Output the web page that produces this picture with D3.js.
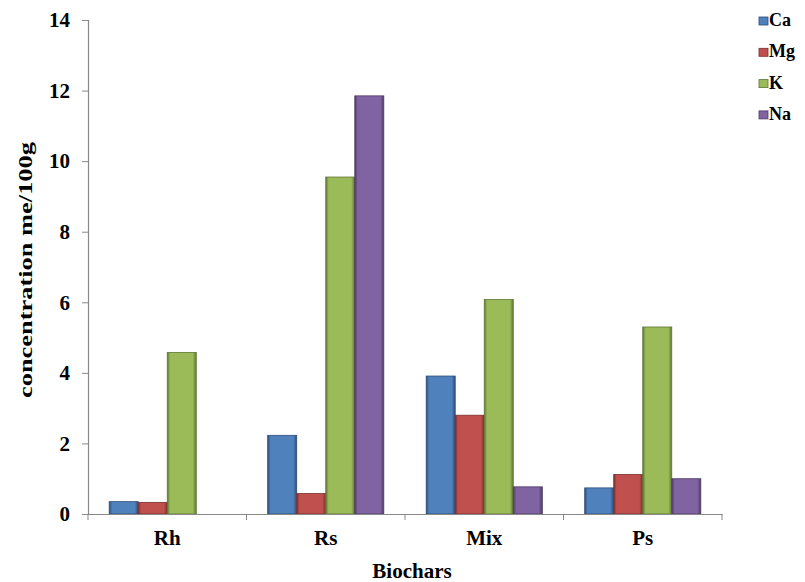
<!DOCTYPE html>
<html><head><meta charset="utf-8">
<script src="https://cdn.jsdelivr.net/npm/d3@7"></script>
<style>body{margin:0;background:#fff}text{font-family:"Liberation Serif","Times New Roman",serif;font-weight:bold}</style>
</head><body>
<svg id="c" width="805" height="582"></svg>
<script>
const categories = ["Rh","Rs","Mix","Ps"];
const seriesNames = ["Ca","Mg","K","Na"];
const Ca = [0.35, 2.23, 3.91, 0.74];
const Mg = [0.33, 0.58, 2.80, 1.12];
const K  = [4.58, 9.55, 6.08, 5.30];
const Na = [0.00, 11.85, 0.77, 1.00];
const yTicks = [0,2,4,6,8,10,12,14];
const colors = ["#4F81BD","#C0504D","#9BBB59","#8064A2"];
const dark = ["#2c4d77","#7a2f2d","#5f7633","#4d3a66"];

const svg = d3.select("#c");
const values = [Ca,Mg,K,Na];
const x0 = d3.scaleBand().domain(categories).range([88,722]).paddingInner(0).paddingOuter(0);
const x1 = d3.scaleBand().domain(seriesNames).range([0, x0.bandwidth()]).paddingInner(0).paddingOuter(0.73);
const y = d3.scaleLinear().domain([0,14]).range([514,20]);

const defs = svg.append("defs");
seriesNames.forEach((s,i)=>{
  const g = defs.append("linearGradient").attr("id","g"+i).attr("x1","0").attr("x2","1").attr("y1","0").attr("y2","0");
  g.append("stop").attr("offset","0").attr("stop-color",dark[i]);
  g.append("stop").attr("offset","0.1").attr("stop-color",colors[i]);
  g.append("stop").attr("offset","0.88").attr("stop-color",colors[i]);
  g.append("stop").attr("offset","1").attr("stop-color",dark[i]);
});

// bars
const groups = svg.append("g").selectAll("g").data(categories).join("g")
  .attr("transform", d=>`translate(${x0(d)},0)`);
groups.selectAll("rect").data((c,ci)=>seriesNames.map((s,si)=>({s,si,v:values[si][ci]})))
  .join("rect")
  .attr("x", d=>x1(d.s))
  .attr("width", x1.bandwidth())
  .attr("y", d=>y(d.v))
  .attr("height", d=>y(0)-y(d.v))
  .attr("fill", d=>`url(#g${d.si})`)
  .attr("stroke", d=>dark[d.si]).attr("stroke-width",0.8)
  .attr("display", d=>d.v>0?null:"none");

// y axis
const ya = svg.append("g").attr("transform","translate(88,0)")
  .call(d3.axisLeft(y).tickValues(yTicks).tickSize(6).tickPadding(12).tickFormat(d3.format("d")));
ya.select(".domain").attr("stroke","#888").attr("stroke-width",1.2);
ya.selectAll(".tick line").attr("stroke","#888");
ya.selectAll(".tick text").attr("font-size",21).attr("fill","#000")
  .attr("font-family","'Liberation Serif',serif").attr("font-weight","bold");

// x axis
const xa = svg.append("g").attr("transform","translate(0,514)")
  .call(d3.axisBottom(x0).tickSize(0).tickPadding(16));
xa.select(".domain").attr("stroke","#888").attr("stroke-width",1.2);
xa.selectAll(".tick text").attr("font-size",21).attr("fill","#000")
  .attr("font-family","'Liberation Serif',serif").attr("font-weight","bold");
// boundary ticks
const bounds = categories.map(c=>x0(c)).concat([x0.range()[1]]);
svg.append("g").selectAll("line").data(bounds).join("line")
  .attr("x1",d=>d).attr("x2",d=>d).attr("y1",514).attr("y2",520)
  .attr("stroke","#888");

// axis titles
svg.append("text").attr("transform","translate(32,270) rotate(-90)")
  .attr("text-anchor","middle").attr("font-size",18)
  .attr("textLength",256).attr("lengthAdjust","spacingAndGlyphs")
  .text("concentration me/100g");
svg.append("text").attr("x",412).attr("y",578).attr("text-anchor","middle")
  .attr("font-size",21).text("Biochars");

// legend
const lg = svg.append("g").attr("transform","translate(759,26)");
const li = lg.selectAll("g").data(seriesNames).join("g")
  .attr("transform",(d,i)=>`translate(0,${i*31.3})`);
li.append("rect").attr("x",0).attr("y",-9).attr("width",9).attr("height",8)
  .attr("fill",(d,i)=>colors[i]).attr("stroke",(d,i)=>dark[i]).attr("stroke-width",0.8);
li.append("text").attr("x",10).attr("y",0).attr("font-size",18).text(d=>d);
</script>
</body></html>
